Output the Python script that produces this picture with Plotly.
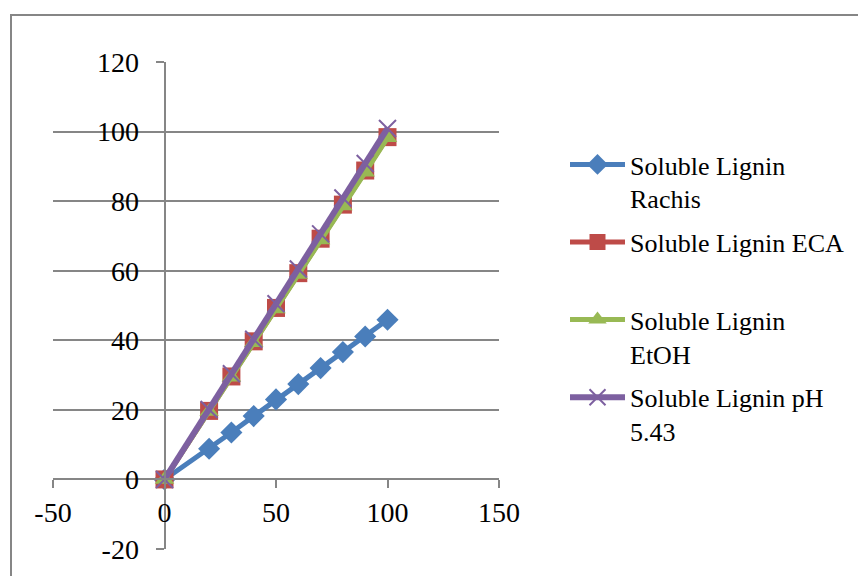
import plotly.graph_objects as go

x_vals = [0, 20, 30, 40, 50, 60, 70, 80, 90, 100]
rachis = [0, 8.8, 13.5, 18.2, 23.0, 27.4, 32.0, 36.6, 41.1, 45.9]
eca = [0, 19.7, 29.6, 39.7, 49.3, 59.3, 69.2, 79.0, 88.8, 98.4]
etoh = [0, 19.5, 29.4, 39.3, 49.0, 58.9, 68.8, 78.6, 88.3, 98.2]
ph = [0, 20.1, 30.4, 40.3, 50.5, 60.5, 70.6, 80.9, 90.8, 100.9]

names = ["Soluble Lignin<br>Rachis", "Soluble Lignin ECA<br>\u00a0",
         "Soluble Lignin<br>EtOH", "Soluble Lignin pH<br>5.43"]

x_ticks = [-50, 0, 50, 100, 150]
y_ticks = [-20, 0, 20, 40, 60, 80, 100, 120]

FONT = "Liberation Serif"
W, H = 858, 576
L, R, T, B = 53, 499, 62, 549

fig = go.Figure()
fig.add_trace(go.Scatter(x=x_vals, y=rachis, name=names[0], mode="lines+markers",
                         line=dict(color="#4A7EBB", width=5),
                         marker=dict(symbol="diamond", size=17, color="#4A7EBB"),
                         legendgroup="a"))
fig.add_trace(go.Scatter(x=x_vals, y=eca, name=names[1], mode="lines+markers",
                         line=dict(color="#BE4B48", width=5),
                         marker=dict(symbol="square", size=18, color="#BE4B48"),
                         legendgroup="b"))
fig.add_trace(go.Scatter(x=x_vals, y=etoh, name=names[2], mode="lines+markers",
                         line=dict(color="#98B954", width=5),
                         marker=dict(symbol="triangle-up", size=17, color="#98B954"),
                         legendgroup="c"))
fig.add_trace(go.Scatter(x=x_vals, y=ph, name=names[3], mode="lines+markers",
                         line=dict(color="#7D60A0", width=6),
                         marker=dict(symbol="x-thin-open", size=17,
                                     line=dict(color="#7D60A0", width=2)),
                         legendgroup="d"))

fig.update_layout(
    width=W, height=H,
    margin=dict(l=L, r=W - R, t=T, b=H - B, pad=0, autoexpand=False),
    paper_bgcolor="white", plot_bgcolor="white",
    font=dict(family=FONT, size=28, color="black"),
    showlegend=True,
    legend=dict(x=(565 - L) / (R - L), y=(549 - 141) / (B - T), xanchor="left", yanchor="top",
                font=dict(family=FONT, size=26, color="black"),
                valign="top", tracegroupgap=7, itemwidth=55, bgcolor="rgba(0,0,0,0)"),
    xaxis=dict(range=[-50, 150], tickvals=x_ticks,
               ticktext=[str(v) for v in x_ticks],
               showgrid=False, zeroline=False, showline=True, linecolor="#868686",
               linewidth=2, ticks="outside", ticklen=8, tickwidth=2, tickcolor="#868686",
               anchor="free", position=20 / 140, ticklabelstandoff=0, automargin=False),
    yaxis=dict(range=[-20, 120], tickvals=y_ticks, ticktext=[str(v) for v in y_ticks],
               showgrid=True, gridcolor="#868686", gridwidth=2, zeroline=False,
               showline=True, linecolor="#868686", linewidth=2,
               ticks="outside", ticklen=8, tickwidth=2, tickcolor="#868686",
               anchor="free", position=0.25, ticklabelstandoff=11, automargin=False),
    shapes=[dict(type="rect", xref="paper", yref="paper",
                 x0=(11 - L) / (R - L), x1=(900 - L) / (R - L),
                 y0=(B - 600) / (B - T), y1=(B - 15) / (B - T),
                 line=dict(color="#868686", width=2), layer="below")],
)

fig.write_html("out.html")
